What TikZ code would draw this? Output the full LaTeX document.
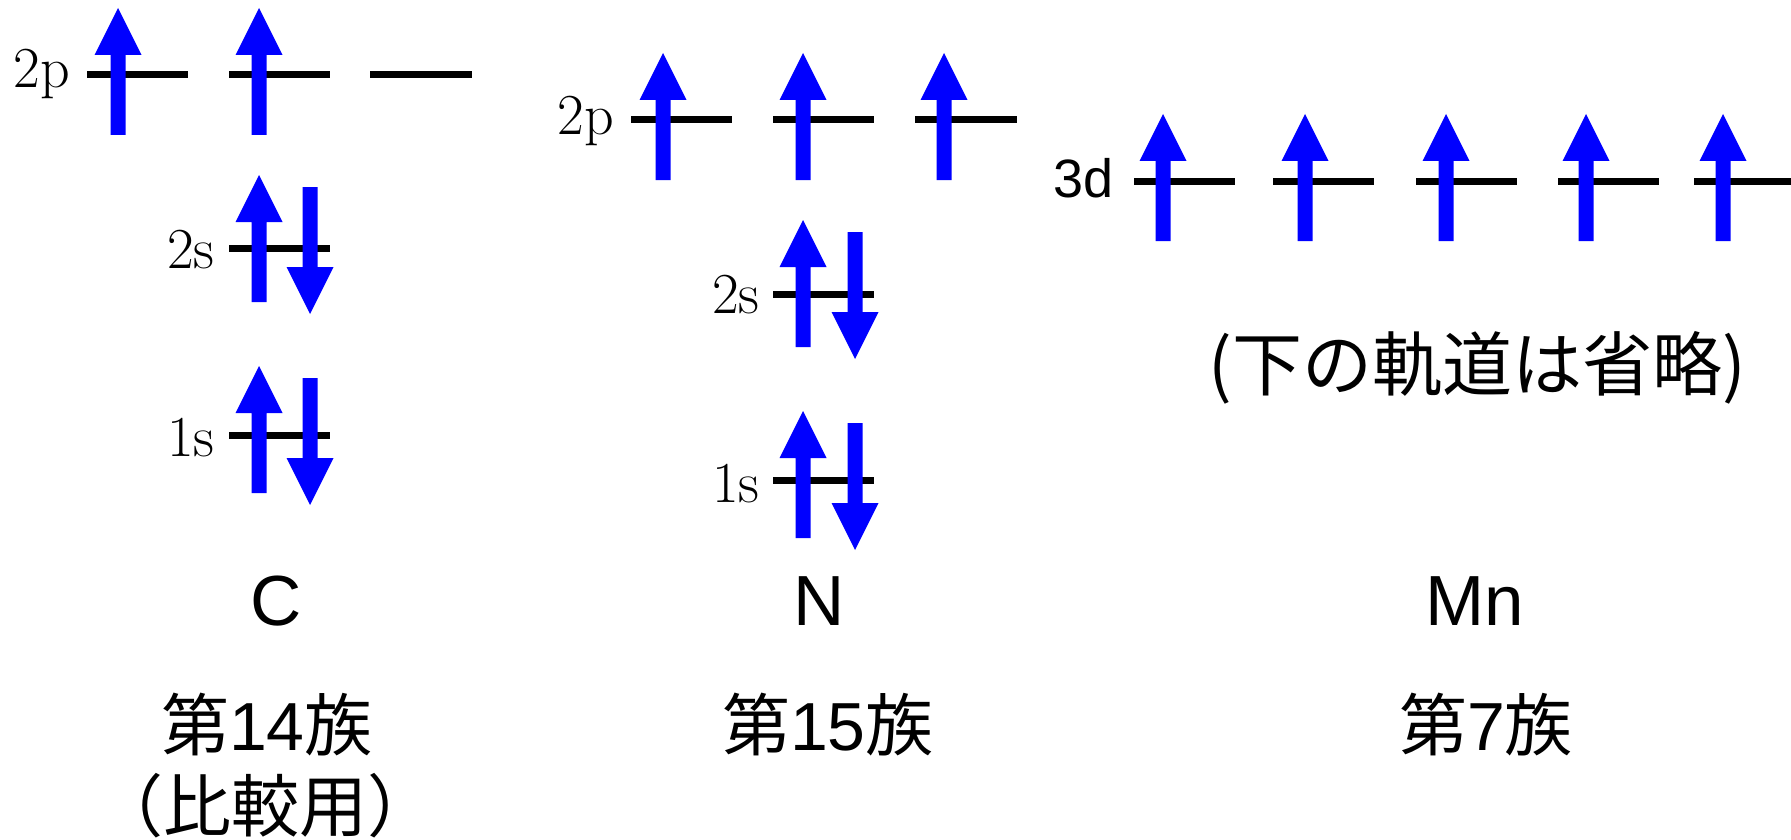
\documentclass[tikz,border=0pt]{standalone}
\usepackage{fontspec}
\newfontfamily\arialf{Liberation Sans}
\newfontfamily\jpf{Noto Sans CJK JP}
\tikzset{
  lvl/.style={line width=7pt, black},
  spinfill/.style={fill=blue},
  spinup/.pic={\fill[spinfill] (-7.5,0) -- (-7.5,-80) -- (-23.5,-80) -- (0,-127) -- (23.5,-80) -- (7.5,-80) -- (7.5,0) -- cycle;},
  spindown/.pic={\fill[spinfill] (-7.5,0) -- (-7.5,80) -- (-23.5,80) -- (0,127) -- (23.5,80) -- (7.5,80) -- (7.5,0) -- cycle;},
  orb/.style={font=\fontsize{58}{58}\selectfont, inner sep=0pt, anchor=base east},
  orbsans/.style={font=\arialf\fontsize{54}{54}\selectfont, inner sep=0pt, anchor=base east},
  elem/.style={font=\arialf\fontsize{71}{71}\selectfont, inner sep=0pt, anchor=base},
  grp/.style={font=\arialf\fontsize{68}{68}\selectfont, inner sep=0pt, anchor=center},
  omitsty/.style={font=\arialf\fontsize{70}{70}\selectfont, inner sep=0pt, anchor=center},
}
\begin{document}
\begin{tikzpicture}[x=1pt,y=-1pt]
\useasboundingbox (0,0) rectangle (1791,840);
% ---------- C ----------
\draw[lvl] (87,75) -- (188,75);
\draw[lvl] (229,75) -- (330,75);
\draw[lvl] (370,75) -- (472,75);
\draw[lvl] (229,248) -- (330,248);
\draw[lvl] (229,435) -- (330,435);
\pic at (118,135) {spinup};
\pic at (259,135) {spinup};
\pic at (259,302) {spinup};
\pic at (310,187) {spindown};
\pic at (259,493) {spinup};
\pic at (310,378) {spindown};
\node[orb] (c2p) at (70,88) {2p};
\node[orb] (c2s) at (215,268) {2s};
\node[orb] (c1s) at (215,456) {1s};
% ---------- N ----------
\draw[lvl] (631,120) -- (732,120);
\draw[lvl] (773,120) -- (874,120);
\draw[lvl] (915,120) -- (1017,120);
\draw[lvl] (773,294) -- (874,294);
\draw[lvl] (773,480) -- (874,480);
\pic at (663,180) {spinup};
\pic at (803,180) {spinup};
\pic at (944,180) {spinup};
\pic at (803,347) {spinup};
\pic at (855,232) {spindown};
\pic at (803,538) {spinup};
\pic at (855,423) {spindown};
\node[orb] (n2p) at (614,135) {2p};
\node[orb] (n2s) at (760,313) {2s};
\node[orb] (n1s) at (760,502) {1s};
% ---------- Mn ----------
\draw[lvl] (1134,181) -- (1235,181);
\draw[lvl] (1273,181) -- (1374,181);
\draw[lvl] (1416,181) -- (1517,181);
\draw[lvl] (1558,181) -- (1659,181);
\draw[lvl] (1694,181) -- (1795,181);
\pic at (1163,241) {spinup};
\pic at (1305,241) {spinup};
\pic at (1446,241) {spinup};
\pic at (1586,241) {spinup};
\pic at (1723,241) {spinup};
\node[orbsans] (mn3d) at (1114,197) {3d};
\node[omitsty] (omit) at (1477,368) {\jpf\makebox[526pt]{(\hfill 下\hfill の\hfill 軌\hfill 道\hfill は\hfill 省\hfill 略\hfill )}};
% ---------- labels ----------
\node[elem] (lc) at (276,625) {C};
\node[elem] (ln) at (819,625) {N};
\node[elem] (lmn) at (1475,625) {Mn};
\node[grp] (g14) at (267,725) {{\jpf 第}14{\jpf 族}};
\node[grp] (cmp) at (265,806) {\jpf （比較用）};
\node[grp] (g15) at (828,725) {{\jpf 第}15{\jpf 族}};
\node[grp] (g7) at (1486,725) {{\jpf 第}7{\jpf 族}};
\end{tikzpicture}
\end{document}
